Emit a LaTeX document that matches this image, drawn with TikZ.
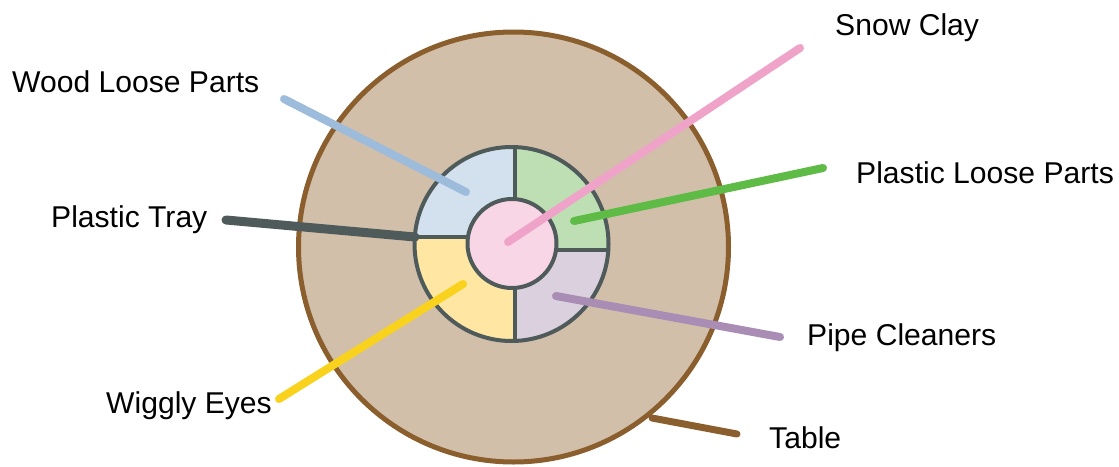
\documentclass[tikz,border=0pt]{standalone}
\usepackage{fontspec}
\setmainfont{Liberation Sans}
\definecolor{tablefill}{HTML}{D2BFA9}
\definecolor{tabledraw}{HTML}{8B5E2D}
\definecolor{traydraw}{HTML}{4F5B5B}
\definecolor{qblue}{HTML}{D3E1EE}
\definecolor{qgreen}{HTML}{BEDFB4}
\definecolor{qyellow}{HTML}{FFE6A3}
\definecolor{qlav}{HTML}{DBD0DD}
\definecolor{qpink}{HTML}{F9D6E5}
\definecolor{lblue}{HTML}{9DBBDB}
\definecolor{lpink}{HTML}{F0A3C9}
\definecolor{lgreen}{HTML}{5DBB46}
\definecolor{lpurple}{HTML}{A98DB5}
\definecolor{lyellow}{HTML}{F9D21E}
\begin{document}
\begin{tikzpicture}[x=1pt,y=-1pt,
  lbl/.style={anchor=base west,inner sep=0pt,font=\fontsize{30.1}{36}\selectfont},
  leader/.style={line width=8pt,line cap=round}]
\useasboundingbox (0,0) rectangle (1119,466);
% table
\node[circle,draw=tabledraw,fill=tablefill,line width=5pt,minimum size=430pt,inner sep=0pt] (table) at (513.5,247) {};
% tray quadrants
\begin{scope}
  \clip (511.5,244) circle (97);
  \fill[qblue] (400,130) rectangle (515,237);
  \fill[qgreen] (515,130) rectangle (620,250);
  \fill[qyellow] (400,237) rectangle (515,360);
  \fill[qlav] (515,250) rectangle (620,360);
  \draw[traydraw,line width=4pt] (515,130) -- (515,360);
  \draw[traydraw,line width=4pt] (400,237) -- (515,237);
  \draw[traydraw,line width=4pt] (515,250) -- (620,250);
\end{scope}
\node[circle,draw=traydraw,line width=4pt,minimum size=194pt,inner sep=0pt] (tray) at (511.5,244) {};
\node[circle,draw=traydraw,fill=qpink,line width=4pt,minimum size=89pt,inner sep=0pt] (clay) at (512,243.5) {};
% labels
\node[lbl] (wood) at (12,92) {Wood Loose Parts};
\node[lbl] (ptray) at (51,227) {Plastic Tray};
\node[lbl] (snow) at (835,35) {Snow Clay};
\node[lbl] (plastic) at (856,183) {Plastic Loose Parts};
\node[lbl] (pipe) at (807,345) {Pipe Cleaners};
\node[lbl] (wiggly) at (106,413) {Wiggly Eyes};
\node[lbl] (tlabel) at (769,448) {Table};
% leader end points
\coordinate (w1) at (284,99);  \coordinate (w2) at (466,192);
\coordinate (t1) at (226,220); \coordinate (t2) at (415,237);
\coordinate (s1) at (800,48);  \coordinate (s2) at (508,242);
\coordinate (p1) at (823,168); \coordinate (p2) at (574,221);
\coordinate (c1) at (556,296); \coordinate (c2) at (780,337);
\coordinate (y1) at (279,399); \coordinate (y2) at (463,284);
\coordinate (b1) at (652,418); \coordinate (b2) at (737,434);
% leaders
\draw[leader,lblue] (w1) -- (w2);
\draw[leader,traydraw,line width=9pt] (t1) -- (t2);
\draw[leader,lpink] (s1) -- (s2);
\draw[leader,lgreen] (p1) -- (p2);
\draw[leader,lpurple] (c1) -- (c2);
\draw[leader,lyellow] (y1) -- (y2);
\draw[leader,tabledraw,line width=7pt] (b1) -- (b2);
\end{tikzpicture}
\end{document}
